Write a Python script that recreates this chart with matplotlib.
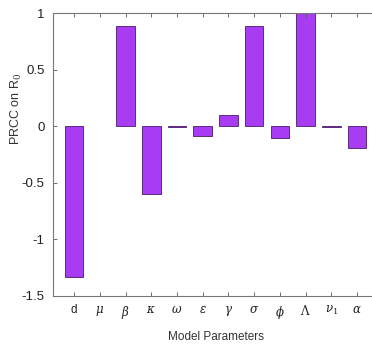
import matplotlib
matplotlib.use("Agg")
import matplotlib.pyplot as plt

# PRCC values per parameter
params = ["d", r"$\mu$", r"$\beta$", r"$\kappa$", r"$\omega$", r"$\epsilon$",
          r"$\gamma$", r"$\sigma$", r"$\phi$", r"$\Lambda$", r"$\nu_1$", r"$\alpha$"]
prcc = [-1.33, 0.0, 0.89, -0.60, -0.005, -0.09, 0.10, 0.89, -0.10, 1.0, -0.005, -0.19]
yticks = [-1.5, -1, -0.5, 0, 0.5, 1]
ytick_labels = ["-1.5", "-1", "-0.5", "0", "0.5", "1"]

plt.rcParams["font.family"] = ["Liberation Sans", "DejaVu Sans"]
plt.rcParams["mathtext.fontset"] = "dejavuserif"

fig = plt.figure(figsize=(3.72, 3.54), dpi=100)
ax = fig.add_axes([0.1425, 0.164, 0.874, 0.799])

x = list(range(1, len(prcc) + 1))
widths = [0 if v == 0 else 0.6 for v in prcc]
ax.bar(x, prcc, width=0.72, color="#a83cf2", edgecolor="#4a1a6a", linewidth=widths)

ax.set_xlim(0.18, 12.82)
ax.set_ylim(-1.5, 1)
ax.set_xticks(x)
ax.set_xticklabels(params, fontsize=8.5, color="#222222")
ax.set_yticks(yticks)
ax.set_yticklabels(ytick_labels, fontsize=9.5, color="#222222")

ax.tick_params(axis="both", direction="in", length=3, width=0.6, color="#555555",
               top=True, pad=6)
for side in ["top", "bottom", "left"]:
    ax.spines[side].set_color("#777777")
    ax.spines[side].set_linewidth(0.8)
ax.spines["right"].set_visible(False)

ax.set_ylabel(r"PRCC on R$_0$", fontsize=9, color="#333333")
ax.yaxis.set_label_coords(-0.09, 0.66)
ax.set_xlabel("Model Parameters", fontsize=8.5, color="#333333", labelpad=7)

plt.savefig("out.png", dpi=100)
